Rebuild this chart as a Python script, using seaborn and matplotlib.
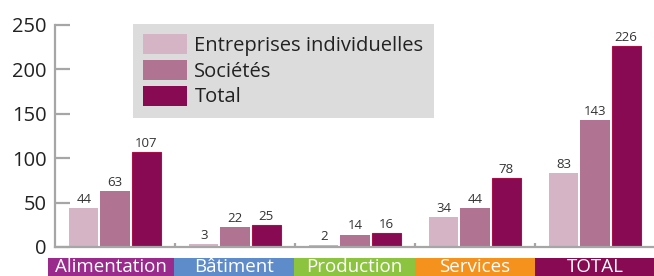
import matplotlib
matplotlib.use("Agg")
import matplotlib.pyplot as plt
import matplotlib.transforms as mtransforms
from matplotlib.patches import Rectangle
import seaborn as sns
import pandas as pd

categories = ["Alimentation", "Bâtiment", "Production", "Services", "TOTAL"]
series_names = ["Entreprises individuelles", "Sociétés", "Total"]
entreprises_individuelles = [44, 3, 2, 34, 83]
societes = [63, 22, 14, 44, 143]
total = [107, 25, 16, 78, 226]
yticks = [0, 50, 100, 150, 200, 250]

series_colors = ["#d5b4c5", "#b07391", "#870a52"]
band_colors = ["#9a2a8c", "#5e8bc9", "#8cc43f", "#f5921e", "#870a52"]

rows = []
for name, vals in zip(series_names, [entreprises_individuelles, societes, total]):
    for c, v in zip(categories, vals):
        rows.append({"cat": c, "serie": name, "val": v})
df = pd.DataFrame(rows)

sns.set_theme(style="white")
plt.rcParams["font.family"] = ["Open Sans", "DejaVu Sans"]

W, H = 654, 276
fig = plt.figure(figsize=(W / 100, H / 100), dpi=100)
ax = fig.add_axes([55 / W, 29 / H, 600 / W, 222 / H])

sns.barplot(data=df, x="cat", y="val", hue="serie", order=categories,
            hue_order=series_names, palette=series_colors, width=0.78,
            gap=0.06, saturation=1, ax=ax, legend=True, linewidth=0)

for cont in ax.containers:
    ax.bar_label(cont, fontsize=9.5, color="#333333", padding=1.5)
for bar in ax.containers[2]:
    bar.set_edgecolor("#a3124a")
    bar.set_linewidth(0.8)

ax.set_xlim(-0.5, 4.5)
ax.set_ylim(0, 250)
ax.set_yticks(yticks)
ax.set_xticks([])
ax.set_xticks([0.5, 1.5, 2.5, 3.5], minor=True)
ax.set_xlabel("")
ax.set_ylabel("")

for s in ["top", "right"]:
    ax.spines[s].set_visible(False)
for s in ["left", "bottom"]:
    ax.spines[s].set_color("#a6a6a6")
    ax.spines[s].set_linewidth(1.6)

ax.tick_params(axis="y", direction="in", length=11, width=1.6, color="#a6a6a6",
               labelsize=14.5, labelcolor="#222222", pad=6, left=True)
ax.tick_params(axis="x", which="minor", direction="in", length=3, width=1.6,
               color="#a6a6a6", bottom=True)

# category bands under the axis
trans = mtransforms.blended_transform_factory(ax.transData, fig.transFigure)
edges = [-0.56, 0.49, 1.49, 2.5, 3.5, 4.5]
for i, (c, col) in enumerate(zip(categories, band_colors)):
    x0, x1 = edges[i], edges[i + 1]
    ax.add_patch(Rectangle((x0, 0), x1 - x0, 18 / H, transform=trans,
                           facecolor=col, edgecolor="none", clip_on=False))
    ax.text((x0 + x1) / 2, 0.5 / H, c, transform=trans, ha="center",
            va="bottom", color="white", fontsize=13.5)

leg = ax.legend(loc="upper left", bbox_to_anchor=(0.13, 1.005),
                borderaxespad=0, frameon=True, fancybox=False,
                facecolor="#dcdcdc", edgecolor="none", framealpha=1,
                fontsize=14.5, handlelength=2.2, handleheight=1.15,
                labelspacing=0.2, handletextpad=0.35, borderpad=0.5,
                title=None)
for t in leg.get_texts():
    t.set_color("#222222")

fig.savefig("out.png", dpi=100)
